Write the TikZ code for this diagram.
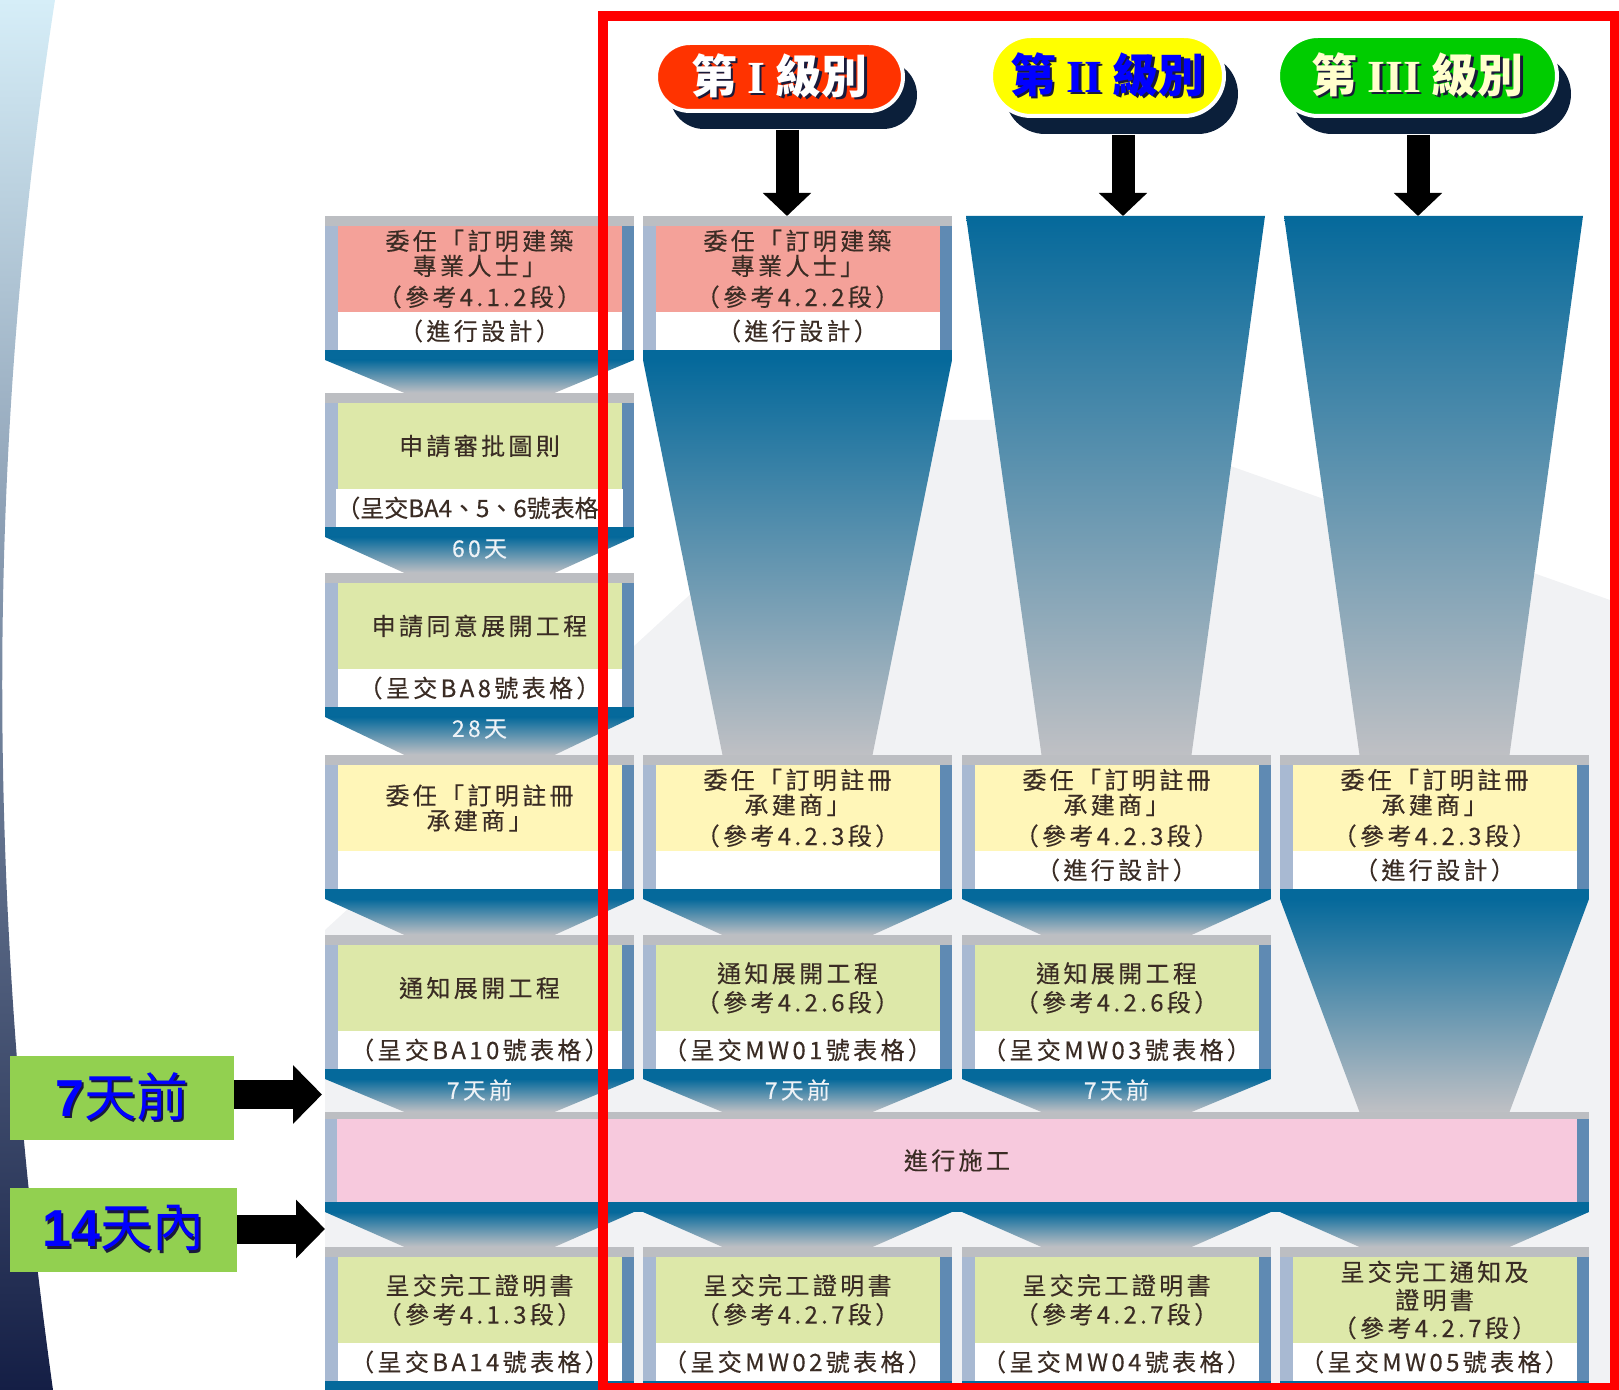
\documentclass[tikz,border=0pt]{standalone}
\usepackage{fontspec}
\setmainfont{Noto Sans CJK TC}
\newfontfamily\cellfont{Noto Sans CJK TC}[LetterSpace=14,FakeBold=0.3]
\newfontfamily\digitfont{Liberation Sans}
\newfontfamily\romanfont{Liberation Serif}
\usetikzlibrary{arrows.meta,positioning,calc,shapes.misc,shadows}

\definecolor{topgray}{HTML}{BCBEC2}
\definecolor{stripl}{HTML}{A8B9D2}
\definecolor{stripr}{HTML}{5F8AB3}
\definecolor{bandc}{HTML}{05699B}
\definecolor{chevgray}{HTML}{BFC0C4}
\definecolor{pinkc}{HTML}{F4A199}
\definecolor{greenc}{HTML}{DDE8A9}
\definecolor{yellowc}{HTML}{FFF6B8}
\definecolor{pinktwo}{HTML}{F7C9DD}
\definecolor{ink}{HTML}{3A2C24}
\definecolor{daywhite}{HTML}{EEF2F6}
\definecolor{navyc}{HTML}{0B1F3A}
\definecolor{txtshadow}{HTML}{1A1A3A}
\definecolor{redc}{HTML}{FF3300}
\definecolor{yellowpill}{HTML}{FFFF00}
\definecolor{greenpill}{HTML}{00CC00}
\definecolor{creamc}{HTML}{FFFFCC}
\definecolor{tagc}{HTML}{92D050}
\definecolor{washc}{HTML}{F1F2F4}
\definecolor{swtop}{HTML}{D6EEF8}
\definecolor{swmid}{HTML}{2F5FA8}
\definecolor{swbot}{HTML}{141E45}

\newcommand\shadowed[2]{\makebox[0pt][l]{\hspace{1.2pt}\raisebox{-1.2pt}{\color{txtshadow}#2}}{\color{#1}#2}}

\begin{document}
\begin{tikzpicture}[x=0.5pt,y=-0.5pt,
    box frame/.style={rectangle,fill=stripl,minimum width=154.5pt,minimum height=72pt,inner sep=0pt,outer sep=0pt},
    cell area/.style={rectangle,minimum width=142pt,minimum height=43pt,inner sep=0pt,outer sep=0pt,
        align=center,text=ink,font=\cellfont\fontsize{12}{12.5}\selectfont},
    white area/.style={cell area,fill=white,minimum height=19pt},
    chevron/.style={top color=bandc,bottom color=chevgray},
    day label/.style={text=daywhite,inner sep=0pt,font=\cellfont\fontsize{11.5}{12}\selectfont},
    level pill/.style={rounded rectangle,draw=white,line width=2pt,inner sep=0pt,
        font=\fontsize{23}{23}\selectfont\bfseries,
        drop shadow={shadow xshift=7pt,shadow yshift=-9pt,fill=navyc,opacity=1}},
    block arrow/.style={line width=11.5pt,-{Triangle[length=11.5pt,width=23.5pt]},shorten <=8.5pt},
    side arrow/.style={line width=14.5pt,-{Triangle[length=14.5pt,width=28.5pt]}},
    day tag/.style={fill=tagc,inner sep=0pt,minimum width=112pt,minimum height=42pt,
        font=\fontsize{26}{26}\selectfont}]

    \useasboundingbox (0,0) rectangle (1619,1390);

    \shade[top color=swtop,middle color=swmid,bottom color=swbot]
        (0,0) -- (55,0) .. controls (-15,450) and (-15,900) .. (53,1390) -- (0,1390) -- cycle;
    \fill[washc] (325,930) -- (880,420) -- (1100,420) -- (1610,600) -- (1610,1390) -- (325,1390) -- cycle;

    \foreach \nm/\lx/\ty in {b11/325/216, b21/325/393, b31/325/573, b41/325/755, b51/325/935, b71/325/1247,
                            b12/643/216, b42/643/755, b52/643/935, b72/643/1247,
                            b43/962/755, b53/962/935, b73/962/1247,
                            b44/1280/755, b74/1280/1247} {
        \node[box frame] (\nm) at (\lx+154.5,\ty+72) {};
        \fill[stripr] (\lx+296.5,\ty) rectangle (\lx+309,\ty+144);
        \fill[topgray] (\lx,\ty) rectangle (\lx+309,\ty+10);
        \fill[bandc] (\lx,\ty+134) rectangle (\lx+309,\ty+144);
    }

    \node[box frame,minimum width=632pt,minimum height=50pt] (b6) at (957,1162) {};
    \fill[stripr] (1577,1112) rectangle (1589,1212);
    \fill[topgray] (325,1112) rectangle (1589,1119);
    \fill[bandc] (325,1202) rectangle (1589,1212);
    \node[cell area,fill=pinktwo,minimum width=620pt,minimum height=41.5pt,below=3.5pt of b6.north] (t6) {進行施工};

    \foreach \src/\dst/\col in {b11/b21/b11, b21/b31/b21, b31/b41/b31, b41/b51/b41, b51/b6/b51,
                                b12/b42/b12, b42/b52/b42, b52/b6/b52, b43/b53/b43, b53/b6/b53, b44/b6/b44,
                                b6/b71/b71, b6/b72/b72, b6/b73/b73, b6/b74/b74}
        \shade[chevron] (\col.west |- \src.south) -- (\col.east |- \src.south)
            -- ($(\col.center |- \dst.north)+(75,0)$) -- ($(\col.center |- \dst.north)+(-75,0)$) -- cycle;

    \coordinate (a1) at (787,216);
    \coordinate (a2) at (1123,216);
    \coordinate (a3) at (1418,216);
    \shade[chevron] ([xshift=2pt]b43.west |- a2) -- ([xshift=-3pt]b43.east |- a2)
        -- ($(b43.north)+(75,0)$) -- ($(b43.north)+(-75,0)$) -- cycle;
    \shade[chevron] ([xshift=2pt]b44.west |- a3) -- ([xshift=-3pt]b44.east |- a3)
        -- ($(b44.north)+(75,0)$) -- ($(b44.north)+(-75,0)$) -- cycle;

    \node[cell area,fill=pinkc,below=5pt of b11.north] (t11) {委任「訂明建築\\專業人士」\\[3pt]（參考4.1.2段）};
    \node[white area,below=0pt of t11] (w11) {（進行設計）};
    \node[cell area,fill=greenc,below=5pt of b21.north] (t21) {申請審批圖則};
    \node[white area,below=0pt of t21] (w21) {\addfontfeature{LetterSpace=0}（呈交BA4、5、6號表格）};
    \node[cell area,fill=greenc,below=5pt of b31.north] (t31) {申請同意展開工程};
    \node[white area,below=0pt of t31] (w31) {（呈交BA8號表格）};
    \node[cell area,fill=yellowc,below=5pt of b41.north] (t41) {委任「訂明註冊\\承建商」};
    \node[white area,below=0pt of t41] (w41) {};
    \node[cell area,fill=greenc,below=5pt of b51.north] (t51) {通知展開工程};
    \node[white area,below=0pt of t51] (w51) {（呈交BA10號表格）};
    \node[cell area,fill=greenc,below=5pt of b71.north] (t71) {呈交完工證明書\\[2pt]（參考4.1.3段）};
    \node[white area,below=0pt of t71] (w71) {（呈交BA14號表格）};

    \node[cell area,fill=pinkc,below=5pt of b12.north] (t12) {委任「訂明建築\\專業人士」\\[3pt]（參考4.2.2段）};
    \node[white area,below=0pt of t12] (w12) {（進行設計）};
    \node[cell area,fill=yellowc,below=5pt of b42.north] (t42) {委任「訂明註冊\\承建商」\\[3pt]（參考4.2.3段）};
    \node[white area,below=0pt of t42] (w42) {};
    \node[cell area,fill=greenc,below=5pt of b52.north] (t52) {通知展開工程\\[2pt]（參考4.2.6段）};
    \node[white area,below=0pt of t52] (w52) {（呈交MW01號表格）};
    \node[cell area,fill=greenc,below=5pt of b72.north] (t72) {呈交完工證明書\\[2pt]（參考4.2.7段）};
    \node[white area,below=0pt of t72] (w72) {（呈交MW02號表格）};

    \node[cell area,fill=yellowc,below=5pt of b43.north] (t43) {委任「訂明註冊\\承建商」\\[3pt]（參考4.2.3段）};
    \node[white area,below=0pt of t43] (w43) {（進行設計）};
    \node[cell area,fill=greenc,below=5pt of b53.north] (t53) {通知展開工程\\[2pt]（參考4.2.6段）};
    \node[white area,below=0pt of t53] (w53) {（呈交MW03號表格）};
    \node[cell area,fill=greenc,below=5pt of b73.north] (t73) {呈交完工證明書\\[2pt]（參考4.2.7段）};
    \node[white area,below=0pt of t73] (w73) {（呈交MW04號表格）};

    \node[cell area,fill=yellowc,below=5pt of b44.north] (t44) {委任「訂明註冊\\承建商」\\[3pt]（參考4.2.3段）};
    \node[white area,below=0pt of t44] (w44) {（進行設計）};
    \node[cell area,fill=greenc,below=5pt of b74.north] (t74) {呈交完工通知及\\[1.5pt]證明書\\[1.5pt]（參考4.2.7段）};
    \node[white area,below=0pt of t74] (w74) {（呈交MW05號表格）};

    \node[day label,below=1pt of b21.south] (g21) {60天};
    \node[day label,below=1pt of b31.south] (g31) {28天};
    \node[day label,below=0pt of b51.south] (g51) {7天前};
    \node[day label,below=0pt of b52.south] (g52) {7天前};
    \node[day label,below=0pt of b53.south] (g53) {7天前};

    \node[level pill,fill=redc,minimum width=123.5pt,minimum height=34pt] (lv1) at (779.5,77)
        {\shadowed{white}{第 {\romanfont I} 級別}};
    \node[level pill,fill=yellowpill,minimum width=116.5pt,minimum height=40pt] (lv2) at (1107.5,76)
        {\shadowed{blue}{第 {\romanfont II} 級別}};
    \node[level pill,fill=greenpill,minimum width=139.5pt,minimum height=40pt] (lv3) at (1417.5,76)
        {\shadowed{creamc}{第 {\romanfont III} 級別}};

    \draw[block arrow] (lv1.south -| a1) -- (a1);
    \draw[block arrow] (lv2.south -| a2) -- (a2);
    \draw[block arrow] (lv3.south -| a3) -- (a3);

    \node[day tag] (d7) at (122,1097.5) {\shadowed{blue}{{\digitfont\bfseries 7}天前}};
    \node[day tag,minimum width=113.5pt] (d14) at (123.5,1229.5) {\shadowed{blue}{{\digitfont\bfseries 14}天內}};
    \coordinate (p7) at (322,1094.5);
    \coordinate (p14) at (325,1229);
    \draw[side arrow] (d7.east |- p7) -- (p7);
    \draw[side arrow] (d14.east |- p14) -- (p14);

    \draw[red,line width=5pt] (603,16) rectangle (1615,1388);
\end{tikzpicture}
\end{document}
